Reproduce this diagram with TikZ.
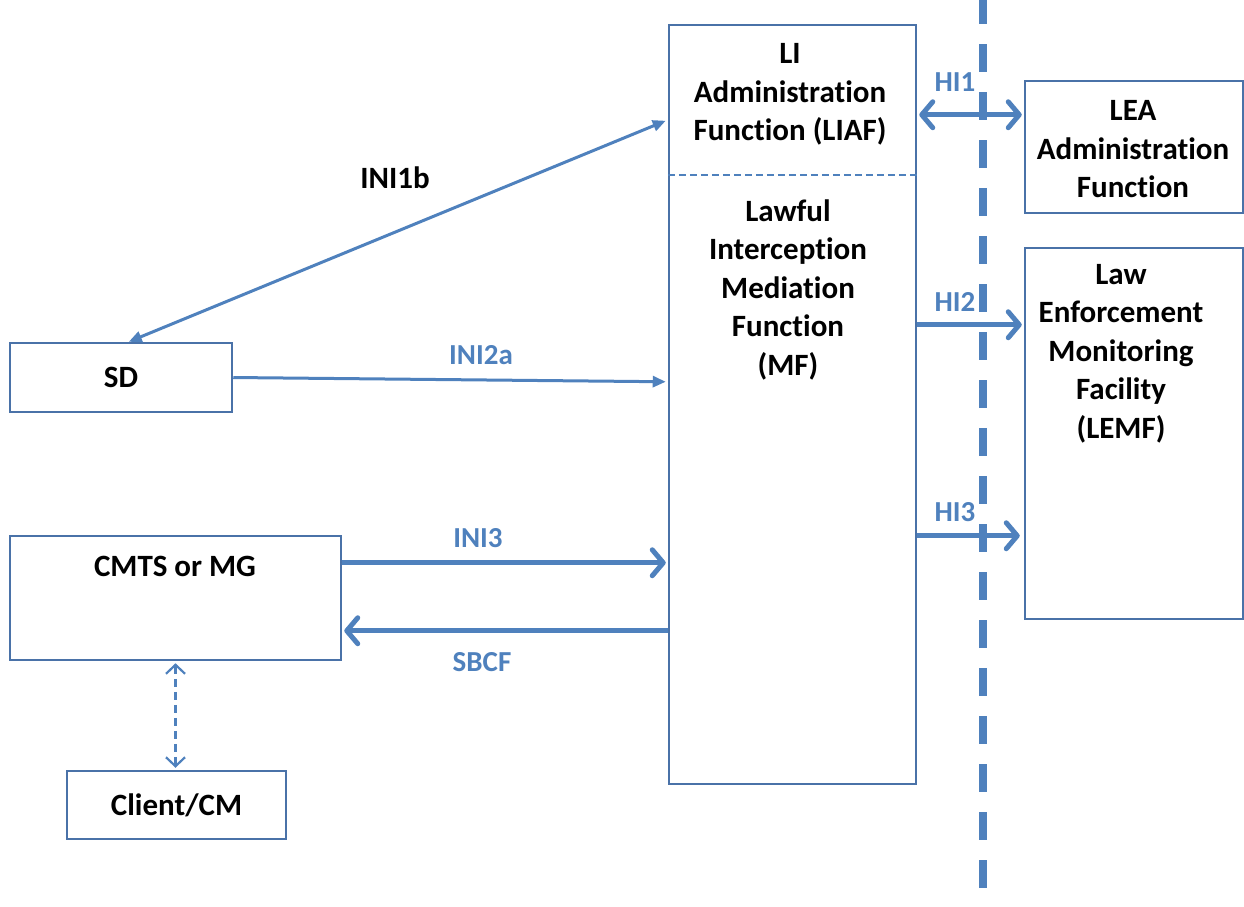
\documentclass[tikz,border=0pt]{standalone}
\usepackage{fontspec}
\setmainfont[Ligatures=NoCommon]{Carlito}
\usetikzlibrary{arrows.meta,calc}
\definecolor{boxblue}{HTML}{4A72A8}
\definecolor{linkblue}{HTML}{4F81BD}
\begin{document}
\begin{tikzpicture}[x=1pt,y=-1pt,
  box/.style={draw=boxblue,line width=2.5pt,fill=white,inner sep=0pt},
  txt/.style={font=\fontsize{31}{38.5}\selectfont\bfseries,align=center,inner sep=0pt,text=black},
  lbl/.style={font=\fontsize{29}{34}\selectfont\bfseries,inner sep=0pt,text=linkblue},
  thinlink/.style={draw=linkblue,line width=3pt},
  thicklink/.style={draw=linkblue,line width=5pt,
    arrows={-Straight Barb[length=11pt,width=26pt,round]}},
  dashlink/.style={draw=linkblue,line width=2.2pt,dash pattern=on 8pt off 5pt,
    arrows={Straight Barb[length=9pt,width=19pt]-Straight Barb[length=9pt,width=19pt]}}
]
\useasboundingbox (0,0) rectangle (1244,906);

% trust boundary
\draw[draw=linkblue,line width=7.5pt,dash pattern=on 28pt off 20pt] (983,-4) -- (983,906);

% boxes
\node[box,minimum width=247pt,minimum height=759pt] (mf) at (792.5,404.5) {};
\node[box,minimum width=218pt,minimum height=132pt] (lea) at (1134,147) {};
\node[box,minimum width=218pt,minimum height=371pt] (lemf) at (1134,433.5) {};
\node[box,minimum width=222pt,minimum height=69pt] (sd) at (121,377.5) {};
\node[box,minimum width=331pt,minimum height=124pt] (cmts) at (175.5,598) {};
\node[box,minimum width=219pt,minimum height=68pt] (client) at (176.5,805) {};

% split between LIAF and MF
\draw[draw=linkblue,line width=1.5pt,dash pattern=on 7pt off 4pt]
  ($(mf.north west)+(0,151)$) -- ($(mf.north east)+(0,151)$);

% box texts
\node[txt] (liaf) at (790,94.5) {LI\\Administration\\Function (LIAF)};
\node[txt] (mftxt) at (788,289.5) {Lawful\\Interception\\Mediation\\Function\\(MF)};
\node[txt] (leatxt) at (1133,149.5) {LEA\\Administration\\Function};
\node[txt] (lemftxt) at (1121,353.5) {Law\\Enforcement\\Monitoring\\Facility\\(LEMF)};
\node[txt] (sdtxt) at (sd.center) {SD};
\node[txt] (cmtstxt) at (175,566) {CMTS or MG};
\node[txt] (clienttxt) at (client.center) {Client/CM};

% INI1b
\draw[thinlink,arrows={Triangle[length=13pt,width=11pt]-Triangle[length=13pt,width=11pt]}]
  ($(sd.north west)+(120,0)$) -- ($(mf.north west)+(-2,97)$);
\node[txt] (ini1b) at (395,178) {INI1b};
% INI2a
\draw[thinlink,arrows={-Triangle[length=13pt,width=11pt]}]
  (sd.east) -- ($(mf.north west)+(-2,358)$);
\node[lbl] (ini2a) at (481,355) {INI2a};
% INI3
\coordinate (ini3s) at ($(cmts.north east)+(0,28)$);
\draw[thicklink] (ini3s) -- ($(ini3s -| mf.west)+(-2,0)$);
\node[lbl] (ini3) at (478,538) {INI3};
% SBCF
\coordinate (sbcfs) at ($(mf.north west)+(0,607)$);
\draw[thicklink] (sbcfs) -- ($(sbcfs -| cmts.east)+(2,0)$);
\node[lbl] (sbcf) at (482,662) {SBCF};
% HI1
\coordinate (hi1s) at ($(mf.north east)+(2,91)$);
\draw[thicklink,arrows={Straight Barb[length=11pt,width=26pt,round]-Straight Barb[length=11pt,width=26pt,round]}]
  (hi1s) -- ($(hi1s -| lea.west)+(-2,0)$);
\node[lbl] (hi1) at (955,82) {HI1};
% HI2
\coordinate (hi2s) at ($(mf.north east)+(0,301)$);
\draw[thicklink] (hi2s) -- ($(hi2s -| lemf.west)+(-2,0)$);
\node[lbl] (hi2) at (955,302) {HI2};
% HI3
\coordinate (hi3s) at ($(mf.north east)+(0,512)$);
\draw[thicklink] (hi3s) -- ($(hi3s -| lemf.west)+(-4,0)$);
\node[lbl] (hi3) at (955,512) {HI3};

% CMTS <-> Client/CM
\draw[dashlink] ($(cmts.south)+(0,2)$) -- ($(cmts.south |- client.north)+(0,-2)$);
\end{tikzpicture}
\end{document}
